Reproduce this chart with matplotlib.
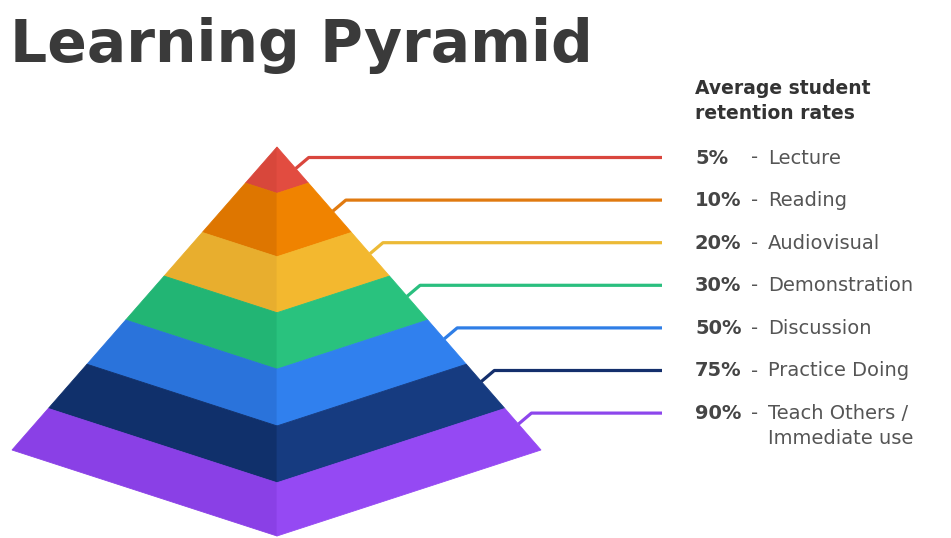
import matplotlib
matplotlib.use("Agg")
import matplotlib.pyplot as plt
from matplotlib.patches import Polygon

plt.rcParams['font.family'] = ['DejaVu Sans']

# data
pcts = ['5%', '10%', '20%', '30%', '50%', '75%', '90%']
methods = ['Lecture', 'Reading', 'Audiovisual', 'Demonstration', 'Discussion',
           'Practice Doing', 'Teach Others /\nImmediate use']
header = ['Average student', 'retention rates']
left_colors = ['#d8473b', '#de7600', '#e8ae2e', '#22b574', '#2a73db', '#10306b', '#8a40e6']
right_colors = ['#e24c40', '#f08300', '#f3b82f', '#29c27e', '#3080ee', '#163b80', '#9549f3']
line_colors = ['#d9463d', '#e07a10', '#ecba36', '#2abf7f', '#2f7ee6', '#142f6c', '#8d46ec']
# band boundaries, as fraction of the pyramid height
bounds = [0.0, 0.119, 0.282, 0.426, 0.571, 0.717, 0.863, 1.0]

# pyramid geometry (pixels)
apex = (277, 147)
left = (12, 450)
right = (541, 450)
front = (277, 536)

W, H = 951, 538
fig = plt.figure(figsize=(W / 100, H / 100), dpi=100)
ax = fig.add_axes([0, 0, 1, 1])
ax.set_xlim(0, W)
ax.set_ylim(H, 0)
ax.axis('off')


def along(p, t):
    return (apex[0] + (p[0] - apex[0]) * t, apex[1] + (p[1] - apex[1]) * t)


for i in range(len(pcts)):
    t0, t1 = bounds[i], bounds[i + 1]
    lf = [along(left, t0), along(front, t0), along(front, t1), along(left, t1)]
    rf = [along(front, t0), along(right, t0), along(right, t1), along(front, t1)]
    ax.add_patch(Polygon(lf, closed=True, fc=left_colors[i], ec=left_colors[i], lw=0.6))
    ax.add_patch(Polygon(rf, closed=True, fc=right_colors[i], ec=right_colors[i], lw=0.6))

# leader lines + labels
y0, dy = 157.5, 42.6
x_end = 662
fs = 14
for i in range(len(pcts)):
    ly = y0 + i * dy
    sy = ly + 11
    # point on right edge of pyramid at height sy
    t = (sy - apex[1]) / (right[1] - apex[1])
    sx = apex[0] + (right[0] - apex[0]) * t
    ax.plot([sx, sx + 13, x_end], [sy, ly, ly], color=line_colors[i], lw=2.3,
            solid_capstyle='butt', solid_joinstyle='round')
    ax.text(695, ly + 6, pcts[i], fontsize=fs, fontweight='bold', color='#454545',
            va='baseline', ha='left')
    ax.text(751, ly + 6, '-', fontsize=fs, color='#555555', va='baseline', ha='left')
    for j, line in enumerate(methods[i].split('\n')):
        ax.text(768, ly + 6 + j * 25, line, fontsize=fs, color='#555555',
                va='baseline', ha='left')

for j, line in enumerate(header):
    ax.text(695, 94 + j * 25, line, fontsize=13.5, fontweight='bold',
            color='#333333', va='baseline', ha='left')

ax.text(10, 62, 'Learning Pyramid', fontsize=42, fontweight='bold', color='#3a3a3a',
        va='baseline', ha='left')

fig.savefig('out.png', dpi=100)
